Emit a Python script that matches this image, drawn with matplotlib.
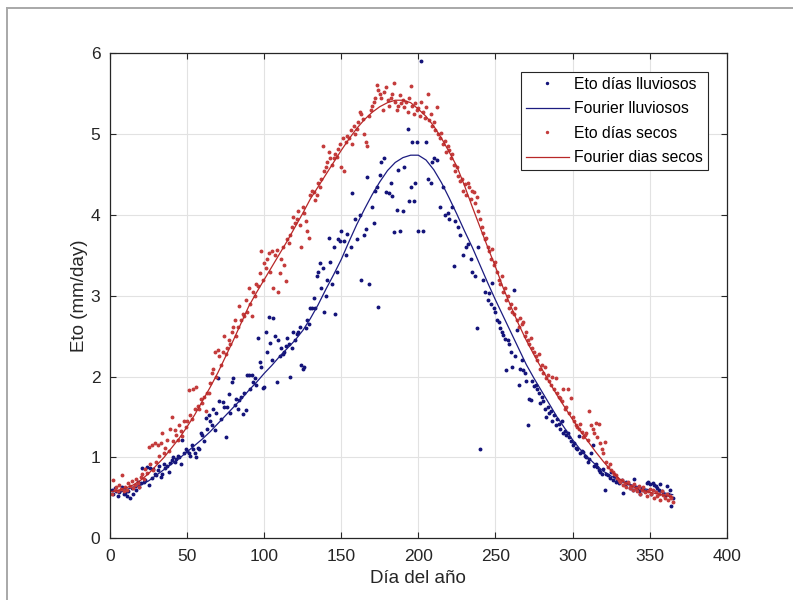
import numpy as np
import matplotlib
matplotlib.use("Agg")
import matplotlib.pyplot as plt
from matplotlib.lines import Line2D

nan = float("nan")

# ---- data ----
days = np.arange(1, 366)

# Eto on dry days, one value per day
eto_secos = [
    0.55, 0.72, 0.60, 0.63, 0.58, 0.66, 0.61, 0.78, 0.59, 0.64,
    0.60, 0.68, 0.65, 0.71, 0.62, 0.66, 0.74, 0.69, 0.64, 0.76,
    0.80, 0.73, 0.86, 0.81, 1.13, 0.92, 1.16, 0.85, 1.18, 0.95,
    1.15, 1.02, 1.18, 1.30, 1.05, 1.12, 1.22, 1.08, 1.35, 1.50,
    1.20, 1.34, 1.28, 1.22, 1.40, 1.33, 1.27, 1.45, 1.38, 1.45,
    1.83, 1.52, 1.48, 1.85, 1.60, 1.87, 1.64, 1.60, 1.72, 1.68,
    1.75, 1.58, 1.80, 1.80, 1.92, 2.04, 2.10, 2.30, 2.00, 2.33,
    2.25, 2.15, 2.30, 2.50, 2.28, 2.35, 2.45, 2.40, 2.55, 2.62,
    2.70, 2.50, 2.62, 2.87, 2.70, 2.78, 2.75, 2.95, 2.80, 3.10,
    2.90, 2.75, 3.05, 3.00, 3.15, 3.12, 3.28, 3.55, 3.20, 3.40,
    3.35, 3.45, 3.53, 3.30, 3.55, 3.10, 3.50, 3.57, 3.05, 3.28,
    3.45, 3.60, 3.38, 3.18, 3.70, 3.65, 3.75, 3.85, 3.98, 3.90,
    3.95, 4.05, 3.88, 3.60, 4.10, 4.02, 3.92, 3.80, 3.72, 4.25,
    4.30, 4.28, 4.18, 4.25, 4.40, 4.35, 4.45, 4.85, 4.55, 4.60,
    4.65, 4.78, 4.70, 4.62, 4.70, 4.75, 4.72, 4.82, 4.88, 4.60,
    4.95, 4.55, 4.90, 4.98, 4.95, 5.05, 4.88, 5.10, 5.00, 5.07,
    5.15, 5.28, 5.25, 5.19, 5.00, 4.90, 4.85, 5.22, 5.30, 5.35,
    5.40, 5.45, 5.61, 5.55, 5.50, 5.45, 5.30, 5.52, 5.58, 5.42,
    5.35, 5.45, 5.50, 5.63, 5.40, 5.30, 5.35, 5.48, 5.38, 5.42,
    5.33, 5.40, 5.28, 5.45, 5.59, 5.35, 5.25, 5.38, 5.30, 5.32,
    5.22, 5.40, 5.28, 5.20, 5.34, 5.50, 5.18, 5.25, 5.10, 5.15,
    5.05, 5.33, 5.00, 4.95, 5.02, 4.88, 4.92, 4.78, 4.85, 4.80,
    4.70, 4.75, 4.62, 4.55, 4.60, 4.48, 4.42, 4.45, 4.30, 4.38,
    4.25, 4.40, 4.35, 4.20, 4.30, 4.28, 4.15, 4.22, 4.05, 3.95,
    3.85, 3.78, 3.70, 3.72, 3.60, 3.55, 3.45, 3.58, 3.38, 3.42,
    3.30, 3.20, 3.15, 3.25, 3.05, 3.10, 2.95, 3.00, 2.85, 2.90,
    2.80, 2.78, 2.85, 2.70, 2.62, 2.72, 2.65, 2.68, 2.50, 2.55,
    2.45, 2.40, 2.48, 2.35, 2.30, 2.25, 2.20, 2.28, 2.10, 2.15,
    2.05, 2.12, 1.98, 2.02, 1.95, 1.90, 2.00, 1.85, 1.98, 1.80,
    1.75, 1.73, 1.70, 1.85, 1.60, 1.62, 1.85, 1.55, 1.74, 1.50,
    1.45, 1.40, 1.38, 1.35, 1.42, 1.32, 1.25, 1.28, 1.30, 1.22,
    1.58, 1.40, 1.35, 1.30, 1.43, 1.25, 1.42, 1.18, 1.10, 1.05,
    1.19, 0.95, 0.88, 0.92, 0.85, 0.82, 0.80, 0.78, 0.75, 0.72,
    0.70, 0.72, 0.66, 0.68, 0.64, 0.70, 0.62, 0.65, 0.60, 0.67,
    0.62, 0.58, 0.65, 0.55, 0.60, 0.63, 0.57, 0.52, 0.58, 0.61,
    0.55, 0.60, 0.50, 0.57, 0.52, 0.55, 0.48, 0.58, 0.53, 0.50,
    0.55, 0.47, 0.52, 0.50, 0.45,
]

# Eto on rainy days, one value per day (nan = no rainy day)
eto_lluviosos = [
    0.60, 0.55, 0.62, 0.58, 0.52, 0.57, 0.60, 0.63, 0.55, 0.56,
    0.52, 0.58, 0.50, 0.62, 0.55, 0.65, 0.60, 0.70, 0.64, 0.68,
    0.87, 0.70, 0.72, 0.88, 0.66, 0.87, 0.75, 0.86, 0.80, 0.78,
    0.85, 0.90, 0.76, 0.80, 0.92, 0.87, 0.90, 0.82, 0.93, 0.97,
    1.00, 0.95, 0.98, 1.02, 1.00, 0.92, 1.22, 1.05, 1.10, 1.08,
    1.05, 1.02, 1.15, 1.10, 1.05, 1.00, 1.12, 1.10, 1.30, 1.28,
    1.21, 1.49, 1.35, 1.53, 1.45, 1.40, 1.60, 1.34, 1.55, 1.98,
    1.70, 1.48, 1.69, 1.62, 1.25, 1.62, 1.78, 1.55, 1.93, 1.98,
    1.65, 1.72, 1.60, 1.71, 1.75, 1.54, 1.80, 1.59, 2.02, 2.02,
    1.85, 2.02, 1.93, 1.98, 1.90, 2.48, 2.18, 2.12, 1.86, 1.87,
    2.55, 2.30, 2.74, 2.42, 2.20, 2.72, 2.50, 1.94, 2.45, 2.26,
    2.35, 2.28, 2.30, 2.38, 2.48, 2.40, 2.00, 2.35, 2.55, 2.45,
    2.53, 2.55, 2.62, 2.14, 2.10, 2.12, 2.60, 2.70, 2.65, 2.85,
    2.85, 2.97, 2.85, 3.24, 3.30, 3.40, 3.10, 3.35, 2.80, 3.00,
    3.20, 3.71, 3.42, 3.15, 3.60, 2.78, 3.30, 3.70, 3.68, 3.80,
    nan, 3.68, 3.50, 3.76, nan, 3.60, 4.27, nan, 3.95, 3.70,
    nan, 4.00, 3.20, nan, 3.75, 3.83, 4.47, 3.15, nan, 4.10,
    3.90, 4.30, 4.35, 2.86, 4.50, 4.65, nan, 4.70, 4.28, nan,
    4.27, 4.40, 4.23, 3.79, nan, 4.06, 4.56, 3.80, nan, 4.05,
    4.60, nan, 5.07, 4.17, 4.35, 4.90, 4.17, 4.40, 4.90, 3.80,
    nan, 5.90, 3.80, nan, 4.90, 4.45, nan, 4.40, 4.65, 4.70,
    nan, 4.68, nan, 4.10, nan, 4.35, 4.00, nan, 4.02, 3.95,
    nan, 4.10, 3.37, 3.92, nan, 3.85, 3.75, nan, 3.50, nan,
    3.60, 3.64, nan, 3.45, 3.30, nan, 3.25, 2.60, 3.60, 1.10,
    nan, 3.20, 3.05, nan, 2.95, 3.03, 2.90, 3.16, 2.85, 2.80,
    2.70, 2.68, 2.60, 2.55, 2.52, 2.47, 2.08, 2.45, 2.40, 2.30,
    2.12, 3.07, 2.25, 2.58, 1.90, 2.10, 2.20, 2.08, 2.05, 1.95,
    1.40, 1.72, 1.71, 1.95, 1.88, 1.90, 1.85, 1.80, 1.67, 1.75,
    1.70, 1.60, 1.50, 1.62, 1.55, 1.58, 1.45, 1.52, 1.40, 1.48,
    1.42, 1.35, 1.45, 1.30, 1.33, 1.28, 1.30, 1.25, 1.20, 1.15,
    1.18, 1.12, 1.10, 1.26, 1.05, 1.08, 1.07, 1.02, 1.00, 0.95,
    0.98, 1.05, 1.15, 0.90, 0.92, 0.88, 0.85, 0.82, 0.80, 0.86,
    0.60, 0.80, 0.78, 0.75, 0.82, 0.72, 0.77, 0.70, 0.74, 0.68,
    0.70, 0.72, 0.56, 0.66, 0.70, 0.68, 0.62, 0.65, 0.60, 0.73,
    0.64, 0.60, 0.58, 0.55, 0.62, 0.60, 0.58, 0.68, 0.70, 0.67,
    0.55, 0.68, 0.66, 0.65, 0.62, 0.60, 0.67, 0.58, 0.55, 0.52,
    0.65, 0.55, 0.60, 0.40, 0.50,
]

# Fourier fits, read every 5 days
fit_days = [1] + list(range(5, 366, 5))
fourier_secos = [
    0.58, 0.59, 0.62, 0.66, 0.72, 0.80, 0.90, 1.00, 1.12, 1.24,
    1.38, 1.53, 1.70, 1.87, 2.05, 2.25, 2.45, 2.66, 2.87, 3.04,
    3.20, 3.36, 3.52, 3.68, 3.85, 4.02, 4.20, 4.35, 4.50, 4.65,
    4.80, 4.94, 5.07, 5.18, 5.27, 5.34, 5.39, 5.42, 5.42, 5.39,
    5.31, 5.22, 5.10, 4.95, 4.78, 4.60, 4.36, 4.10, 3.85, 3.60,
    3.36, 3.10, 2.87, 2.65, 2.45, 2.27, 2.10, 1.93, 1.77, 1.62,
    1.47, 1.33, 1.20, 1.07, 0.95, 0.84, 0.74, 0.68, 0.63, 0.60,
    0.57, 0.55, 0.53, 0.51,
]
fourier_lluviosos = [
    0.58, 0.59, 0.60, 0.63, 0.66, 0.71, 0.78, 0.85, 0.92, 0.99,
    1.07, 1.15, 1.23, 1.32, 1.42, 1.52, 1.62, 1.72, 1.83, 1.93,
    2.04, 2.14, 2.25, 2.35, 2.45, 2.57, 2.72, 2.89, 3.08, 3.26,
    3.45, 3.67, 3.88, 4.07, 4.25, 4.41, 4.55, 4.65, 4.71, 4.74,
    4.74, 4.68, 4.56, 4.40, 4.21, 4.01, 3.80, 3.60, 3.38, 3.16,
    2.95, 2.75, 2.55, 2.35, 2.15, 1.98, 1.82, 1.66, 1.50, 1.36,
    1.22, 1.10, 1.00, 0.91, 0.83, 0.77, 0.72, 0.68, 0.65, 0.62,
    0.60, 0.58, 0.56, 0.54,
]

BLUE_PTS = "#14147a"
RED_PTS = "#c43c3c"
BLUE_LINE = "#1c1c80"
RED_LINE = "#b82828"

plt.rcParams['font.family'] = ['Liberation Sans', 'DejaVu Sans']

fig = plt.figure(figsize=(7.93, 6.0), dpi=100)
fig.patch.set_facecolor('w')
ax = fig.add_axes([0.1387, 0.1028, 0.7777, 0.8083])

# outer gray frame of the screenshot
fig.add_artist(Line2D([7 / 793, 1.0], [1 - 8 / 600, 1 - 8 / 600], color='#a8a8a8', lw=1.4))
fig.add_artist(Line2D([7 / 793, 7 / 793], [0.0, 1 - 8 / 600], color='#a8a8a8', lw=1.4))

ax.plot(days, eto_lluviosos, linestyle='none', marker='.', ms=3.6,
        color=BLUE_PTS, label='Eto días lluviosos')
ax.plot(fit_days, fourier_lluviosos, color=BLUE_LINE, lw=0.9,
        label='Fourier lluviosos')
ax.plot(days, eto_secos, linestyle='none', marker='.', ms=3.6,
        color=RED_PTS, label='Eto días secos')
ax.plot(fit_days, fourier_secos, color=RED_LINE, lw=0.9,
        label='Fourier dias secos')

# MATLAB-like axes
ax.set_xlim(0, 400)
ax.set_ylim(0, 6)
ax.set_xticks(range(0, 401, 50))
ax.set_yticks(range(0, 7))
ax.grid(True, color='#e2e2e2', lw=0.8)
ax.set_axisbelow(True)
for s in ax.spines.values():
    s.set_linewidth(0.9)
    s.set_color('#262626')
ax.tick_params(direction='in', length=4, width=0.8, top=True, right=True,
               labelsize=12.5, colors='#262626')
ax.tick_params(axis='x', pad=8)
ax.tick_params(axis='y', pad=7)

ax.set_xlabel('Día del año', fontsize=13.5, color='#262626', labelpad=4)
ax.set_ylabel('Eto (mm/day)', fontsize=13.5, color='#262626', labelpad=2)

leg = ax.legend(loc='upper right', bbox_to_anchor=(0.969, 0.961),
                fontsize=11.3, fancybox=False, framealpha=1,
                edgecolor='#262626', handlelength=2.7, handletextpad=0.35,
                labelspacing=0.6, borderpad=0.3, borderaxespad=0,
                markerscale=0.8)
leg.get_frame().set_linewidth(0.8)

plt.savefig("out.png", dpi=100)
